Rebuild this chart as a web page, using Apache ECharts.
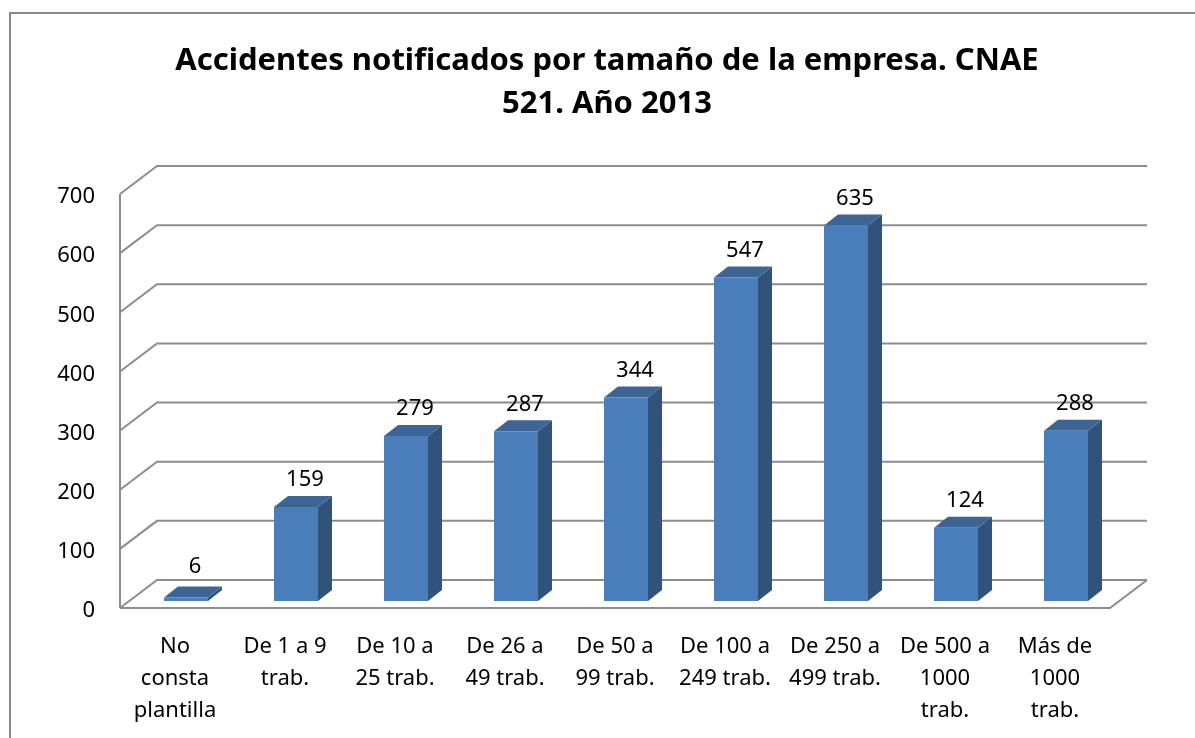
<!DOCTYPE html>
<html>
<head>
<meta charset="utf-8">
<script src="https://cdn.jsdelivr.net/npm/echarts@6/dist/echarts.min.js"></script>
<style>
  html, body { margin: 0; padding: 0; background: #fff; }
  #chart { width: 1195px; height: 738px; }
</style>
</head>
<body>
<div id="chart"></div>
<script>
// datos del gráfico
const categories = [
  'No\nconsta\nplantilla',
  'De 1 a 9\ntrab.',
  'De 10 a\n25 trab.',
  'De 26 a\n49 trab.',
  'De 50 a\n99 trab.',
  'De 100 a\n249 trab.',
  'De 250 a\n499 trab.',
  'De 500 a\n1000\ntrab.',
  'Más de\n1000\ntrab.'
]
const accidentes = [6, 159, 279, 287, 344, 547, 635, 124, 288]
const yTicks = [0, 100, 200, 300, 400, 500, 600, 700]

const FONT = '"Noto Sans", "Open Sans", sans-serif'
const GRID_COLOR = '#8c8c8c'
const WALL = [37, -28]   // profundidad de las paredes
const BAR_OFF = [11, -7] // cara frontal de la barra respecto al plano frontal
const BAR_DEPTH = [14, -11]
const BAR_W = 44

const chart = echarts.init(document.getElementById('chart'))

const renderWalls = (params, api) => {
  const cs = params.coordSys
  const v = api.value(1)
  const y = api.coord([0, v])[1]
  const x0 = cs.x
  const x1 = cs.x + cs.width
  const children = [
    {
      type: 'polyline',
      shape: { points: [[x0, y], [x0 + WALL[0], y + WALL[1]], [x1 + WALL[0], y + WALL[1]]] },
      style: { stroke: GRID_COLOR, lineWidth: 2, fill: null }
    },
    {
      type: 'text',
      style: {
        text: String(v),
        x: x0 - 25,
        y: y + 3,
        align: 'right',
        verticalAlign: 'middle',
        fill: '#000',
        font: '22px ' + FONT
      }
    }
  ]
  if (v === 0) {
    // suelo y eje vertical
    children.push({
      type: 'polyline',
      shape: { points: [[x0, y], [x1, y], [x1 + WALL[0], y + WALL[1]]] },
      style: { stroke: GRID_COLOR, lineWidth: 2, fill: null }
    })
    children.push({
      type: 'line',
      shape: { x1: x0, y1: y, x2: x0, y2: cs.y },
      style: { stroke: GRID_COLOR, lineWidth: 2 }
    })
  }
  return { type: 'group', children }
}

const renderBar = (params, api) => {
  const idx = api.value(0)
  const val = api.value(1)
  const top = api.coord([idx, val])
  const base = api.coord([idx, 0])
  const cx = top[0] + BAR_OFF[0]
  const l = cx - BAR_W / 2
  const r = cx + BAR_W / 2
  const yt = top[1] + BAR_OFF[1]
  const yb = base[1] + BAR_OFF[1]
  const dx = BAR_DEPTH[0]
  const dy = BAR_DEPTH[1]
  return {
    type: 'group',
    children: [
      {
        type: 'polygon',
        shape: { points: [[r, yb], [r + dx, yb + dy], [r + dx, yt + dy], [r, yt]] },
        style: { fill: '#31527b' }
      },
      {
        type: 'polygon',
        shape: { points: [[l, yt], [r, yt], [r + dx, yt + dy], [l + dx, yt + dy]] },
        style: { fill: '#3c6595' }
      },
      {
        type: 'rect',
        shape: { x: l, y: yt, width: BAR_W, height: Math.max(yb - yt, 1) },
        style: { fill: '#4a7ebb' }
      },
      {
        type: 'text',
        style: {
          text: String(val),
          x: cx + 9,
          y: yt - (yb - yt < 10 ? 31 : 27),
          align: 'center',
          verticalAlign: 'middle',
          fill: '#000',
          font: '22px ' + FONT
        }
      }
    ]
  }
}

const option = {
  animation: false,
  graphic: [
    {
      type: 'rect',
      shape: { x: 10, y: 13, width: 1400, height: 900 },
      style: { fill: null, stroke: '#8a8a8a', lineWidth: 2 },
      silent: true
    },
    {
      type: 'text',
      style: {
        text: 'Accidentes notificados por tamaño de la empresa. CNAE\n521. Año 2013',
        x: 607, y: 83,
        align: 'center', verticalAlign: 'middle',
        font: 'bold 31px ' + FONT,
        lineHeight: 43,
        fill: '#000'
      }
    }
  ],
  grid: {
    left: 120,
    right: 85,
    top: 194,
    bottom: 130
  },
  xAxis: {
    type: 'category',
    data: categories,
    axisLine: { show: false },
    axisTick: { show: false },
    axisLabel: {
      interval: 0,
      margin: 23,
      color: '#000',
      fontFamily: FONT,
      fontSize: 22,
      lineHeight: 32
    }
  },
  yAxis: {
    type: 'value',
    min: 0,
    max: 700,
    interval: 100,
    axisLine: { show: false },
    axisTick: { show: false },
    splitLine: { show: false },
    axisLabel: { show: false }
  },
  series: [
    {
      type: 'custom',
      renderItem: renderWalls,
      data: yTicks.map(v => [0, v]),
      encode: { x: 0, y: 1 },
      silent: true,
      z: 1
    },
    {
      type: 'custom',
      renderItem: renderBar,
      data: accidentes.map((v, i) => [i, v]),
      encode: { x: 0, y: 1 },
      z: 2
    }
  ]
}

chart.setOption(option)
window.addEventListener('resize', () => chart.resize())
</script>
</body>
</html>
